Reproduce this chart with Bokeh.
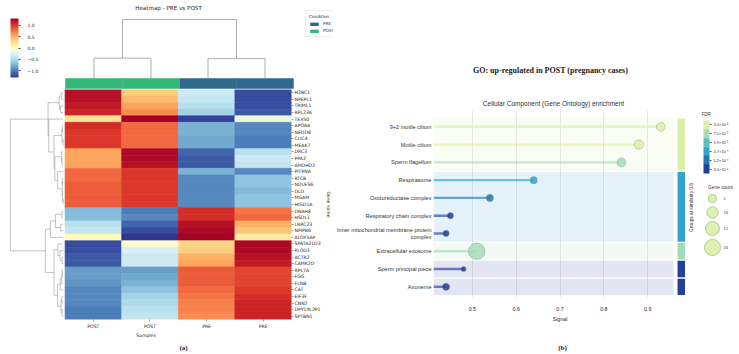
import textwrap
import numpy as np
from bokeh.plotting import figure
from bokeh.layouts import row, column
from bokeh.models import (ColumnDataSource, Range1d, LinearColorMapper, ColorBar, FixedTicker,
                          Label, Legend, LegendItem, AllLabels)
from bokeh.palettes import RdYlBu11
from bokeh.transform import transform
from bokeh.embed import file_html
from bokeh.resources import INLINE

# ------------------------------------------------------------------ heatmap data
genes = ["H2BC1", "NPEPL1", "TRIML1", "RPL23A", "TEX50", "APOA4", "NEDD8", "CLIC4",
         "MEAK7", "DRC3", "PPA2", "AMDHD2", "PITPNA", "RTCB", "NDUFS6", "DLD", "MGAM",
         "HIGD1A", "DNAH8", "HSDL1", "LRRC23", "NPIPB6", "ALOX5AP", "SPATA31D3", "PLOD3",
         "ACTR2", "CAMK2D", "RPL7A", "FGG", "FLNB", "CAT", "EIF3F", "CNN2", "DPY19L2P1",
         "SPTBN1"]
samples = ["POST", "POST", "PRE", "PRE"]
conditions = ["PRE", "POST"]
condition_colors = ["#31688e", "#35b779"]

# row z-scores, one list per sample column
post_1 = [1.20, 1.20, 1.15, 1.10, 0.25, 1.05, 1.00, 1.00, 1.00, 0.55, 0.55, 0.55,
          0.80, 0.80, 0.85, 0.85, 0.85, 0.85, -0.70, -0.70, -0.45, -0.40, 0.05,
          -1.20, -1.20, -1.15, -1.15, -0.85, -0.85, -0.90, -0.95, -0.95, -0.95, -1.00, -1.00]
post_2 = [0.35, 0.45, 0.55, 0.65, 1.30, 0.80, 0.80, 0.80, 0.80, 1.25, 1.25, 1.20,
          1.00, 1.00, 1.00, 1.00, 1.00, 1.00, -1.00, -0.95, -1.10, -1.20, -1.30,
          -0.05, -0.30, -0.35, -0.35, -0.85, -0.80, -0.75, -0.65, -0.55, -0.50, -0.45, -0.40]
pre_1 = [-0.35, -0.40, -0.45, -0.55, -1.25, -0.75, -0.75, -0.80, -0.80, -1.10, -1.15, -1.15,
         -0.75, -0.95, -0.95, -0.95, -0.95, -0.95, 1.05, 1.05, 1.20, 1.25, 1.30,
         0.30, 0.35, 0.50, 0.55, 0.85, 0.85, 0.85, 0.80, 0.75, 0.70, 0.70, 0.65]
pre_2 = [-1.20, -1.20, -1.20, -1.15, -0.15, -0.95, -0.95, -1.00, -1.00, -0.45, -0.35, -0.40,
         -0.95, -0.65, -0.65, -0.70, -0.65, -0.65, 0.75, 0.80, 0.50, 0.40, 0.15,
         1.25, 1.25, 1.20, 1.15, 0.95, 0.95, 0.95, 1.00, 1.05, 1.10, 1.10, 1.10]
heat_ticks = [-1.0, -0.5, 0.0, 0.5, 1.0]

# ------------------------------------------------------------------ enrichment data
terms = ["9+2 motile cilium", "Motile cilium", "Sperm flagellum", "Respirasome",
         "Oxidoreductase complex", "Respiratory chain complex",
         "Inner mitochondrial membrane protein complex", "Extracellular exosome",
         "Sperm principal piece", "Axoneme"]
signal = [0.93, 0.88, 0.84, 0.64, 0.54, 0.45, 0.44, 0.51, 0.48, 0.44]
fdr = [2.6e-2, 2.6e-2, 9.5e-3, 4.7e-4, 1.2e-4, 3.5e-5, 3.0e-5, 9.5e-3, 4.5e-5, 2.5e-5]
gene_count = [6, 7, 6, 4, 4, 3, 3, 21, 2, 4]
group = [1, 1, 1, 2, 2, 2, 2, 3, 4, 5]
group_fdr = [2.6e-2, 4.7e-4, 9.5e-3, 4.5e-5, 2.5e-5]
signal_ticks = [0.5, 0.6, 0.7, 0.8, 0.9]
fdr_ticks = [3.0e-2, 7.5e-3, 1.9e-3, 4.7e-4, 1.2e-4, 3.0e-5]
fdr_tick_labels = ["3.0×10⁻²", "7.5×10⁻³", "1.9×10⁻³", "4.7×10⁻⁴", "1.2×10⁻⁴", "3.0×10⁻⁵"]
count_ticks = [5, 10, 15, 20]

# ------------------------------------------------------------------ helpers
SANS = "DejaVu Sans"
ARIAL = "Liberation Sans"
SERIF = "Liberation Serif"
TXT = "#262626"
TREE = "#9a9a9a"
PAGE_W, PAGE_H = 739, 354
BODY_H = 340          # panels; the caption strip sits underneath


def interp_hex(colors, n):
    rgb = np.array([[int(c[i:i + 2], 16) for i in (1, 3, 5)] for c in colors], float)
    t = np.linspace(0, 1, len(colors))
    ts = np.linspace(0, 1, n)
    out = np.stack([np.interp(ts, t, rgb[:, k]) for k in range(3)], axis=1)
    return ["#%02x%02x%02x" % tuple(int(round(v)) for v in c) for c in out]


def ordered_linkage(vectors):
    """Average-linkage clustering joining only neighbouring clusters, so the
    leaves keep the order of the rows. Returns (pos_a, h_a, pos_b, h_b, h)."""
    v = np.asarray(vectors, float)
    d = np.sqrt(((v[:, None, :] - v[None, :, :]) ** 2).sum(-1))
    clusters = [dict(members=[i], pos=float(i), h=0.0) for i in range(len(v))]
    links = []
    while len(clusters) > 1:
        best = None
        for j in range(len(clusters) - 1):
            a, b = clusters[j], clusters[j + 1]
            dist = d[np.ix_(a["members"], b["members"])].mean()
            if best is None or dist < best[0]:
                best = (dist, j)
        dist, j = best
        a, b = clusters[j], clusters[j + 1]
        h = max(dist, a["h"], b["h"])
        links.append((a["pos"], a["h"], b["pos"], b["h"], h))
        clusters[j:j + 2] = [dict(members=a["members"] + b["members"],
                                  pos=(a["pos"] + b["pos"]) / 2, h=h)]
    return links


def style_axis(ax, font, size):
    ax.axis_line_color = None
    ax.major_tick_in = 0
    ax.minor_tick_line_color = None
    ax.major_label_text_font = font
    ax.major_label_text_font_size = size
    ax.major_label_text_color = TXT
    ax.axis_label_text_font = font
    ax.axis_label_text_font_size = size
    ax.axis_label_text_font_style = "normal"
    ax.axis_label_text_color = TXT


def bare(fig):
    fig.axis.visible = False
    fig.grid.visible = False
    fig.outline_line_color = None
    return fig


def fig(**kw):
    return figure(output_backend="svg", toolbar_location=None, frame_align=False, **kw)


# ================================================================== (a) clustered heatmap
LEFT_W = 333
hm_left, hm_right = 65, 293
hm_top, hm_bottom = 89, 322
n_rows, n_cols = len(genes), len(samples)
matrix = np.array([post_1, post_2, pre_1, pre_2]).T
col_w = (hm_right - hm_left) / n_cols
row_h = (hm_bottom - hm_top) / n_rows

heat_palette = interp_hex(list(RdYlBu11), 256)
heat_mapper = LinearColorMapper(palette=heat_palette, low=matrix.min(), high=matrix.max())

# --- upper strip: title, colour scale, column dendrogram, condition bar, legend
pt = bare(fig(width=LEFT_W, height=hm_top,
              x_range=Range1d(-hm_left / col_w, (LEFT_W - hm_left) / col_w),
              y_range=Range1d(hm_top, 0), min_border=0))

legend_items = []
for cond, color in zip(conditions, condition_colors):
    idx = [j for j, s in enumerate(samples) if s == cond]
    r = pt.quad(left=idx, right=[j + 1 for j in idx], bottom=88, top=78,
                fill_color=color, line_color=color, line_width=0.5)
    legend_items.append(LegendItem(label=cond, renderers=[r]))

col_links = ordered_linkage(matrix.T)
col_hmax = max(l[4] for l in col_links)
c_leaf, c_root = 78, 19
pt.extra_y_ranges = {"coldend": Range1d((c_leaf - hm_top) / (c_leaf - c_root) * col_hmax,
                                        c_leaf / (c_leaf - c_root) * col_hmax)}
pt.multi_line(xs=[[pa + 0.5, pa + 0.5, pb + 0.5, pb + 0.5] for pa, ha, pb, hb, h in col_links],
              ys=[[ha, h, h, hb] for pa, ha, pb, hb, h in col_links],
              y_range_name="coldend", line_color=TREE, line_width=0.8)

cbar = ColorBar(color_mapper=heat_mapper, location=(10, hm_top - 77), width=8, height=59,
                padding=0, margin=0, ticker=FixedTicker(ticks=heat_ticks),
                major_label_overrides={t: ("%.1f" % t).replace("-", "−") for t in heat_ticks},
                major_label_policy=AllLabels(),
                major_label_text_font=SANS, major_label_text_font_size="4.5px",
                major_label_text_color=TXT, major_tick_in=0, major_tick_out=2,
                major_tick_line_color="#444444", label_standoff=7, bar_line_color=None,
                background_fill_alpha=0)
pt.add_layout(cbar)

leg = Legend(items=legend_items, title="Condition", location=(305, hm_top - 37),
             title_text_font=SANS, title_text_font_size="4.2px", title_text_color=TXT,
             label_text_font=SANS, label_text_font_size="4.2px", label_text_color=TXT,
             glyph_width=10, glyph_height=4, label_height=5, label_standoff=4,
             padding=3, spacing=2, margin=0, title_standoff=2,
             border_line_color="#dddddd", border_line_width=0.6)
pt.add_layout(leg)
pt.add_layout(Label(x=(168 - hm_left) / col_w, y=7, text="Heatmap - PRE vs POST",
                    text_font=SANS, text_font_size="5.6px", text_color=TXT,
                    text_align="center", text_baseline="middle"))

# --- heatmap body with row dendrogram
ph = fig(width=LEFT_W, height=BODY_H - hm_top,
         x_range=Range1d(-hm_left / col_w, n_cols), y_range=Range1d(0, n_rows),
         y_axis_location="right",
         min_border_left=0, min_border_right=LEFT_W - hm_right,
         min_border_top=0, min_border_bottom=BODY_H - hm_bottom)
ph.xgrid.visible = False
ph.ygrid.visible = False
ph.outline_line_color = None

cells = dict(x=[], y=[], v=[])
for i in range(n_rows):
    for j in range(n_cols):
        cells["x"].append(j + 0.5)
        cells["y"].append(n_rows - i - 0.5)
        cells["v"].append(float(matrix[i, j]))
ph.rect(x="x", y="y", width=1, height=1, source=ColumnDataSource(cells),
        fill_color=transform("v", heat_mapper), line_color=transform("v", heat_mapper),
        line_width=0.6)

row_links = ordered_linkage(matrix)
row_hmax = max(l[4] for l in row_links)
r_leaf, r_root = 63, 10
ph.extra_x_ranges = {"rowdend": Range1d(r_leaf / (r_leaf - r_root) * row_hmax,
                                        (r_leaf - hm_right) / (r_leaf - r_root) * row_hmax)}
ph.multi_line(xs=[[ha, h, h, hb] for pa, ha, pb, hb, h in row_links],
              ys=[[n_rows - pa - 0.5, n_rows - pa - 0.5, n_rows - pb - 0.5, n_rows - pb - 0.5]
                  for pa, ha, pb, hb, h in row_links],
              x_range_name="rowdend", line_color=TREE, line_width=0.6)

for ax in (ph.xaxis[0], ph.yaxis[0]):
    style_axis(ax, SANS, "4.6px")
    ax.major_tick_out = 2
    ax.major_tick_line_width = 0.5
    ax.major_tick_line_color = "#444444"
    ax.major_label_standoff = 1
ph.xaxis.major_label_standoff = 2
ph.xaxis.ticker = FixedTicker(ticks=[j + 0.5 for j in range(n_cols)])
ph.xaxis.major_label_overrides = {j + 0.5: s for j, s in enumerate(samples)}
ph.xaxis.axis_label = "Samples"
ph.xaxis.axis_label_standoff = 1
ph.yaxis.ticker = FixedTicker(ticks=[n_rows - i - 0.5 for i in range(n_rows)])
ph.yaxis.major_label_overrides = {n_rows - i - 0.5: g for i, g in enumerate(genes)}
ph.yaxis.axis_label = "Gene name"
ph.yaxis.axis_label_standoff = 2
ph.yaxis.axis_label_text_font_size = "4.5px"

left_panel = column(pt, ph, spacing=0)

# ================================================================== (b) GO enrichment
RIGHT_W = 353
page_x0 = LEFT_W
plot_l, plot_r = 432, 686
plot_t, plot_b = 110, 297
px_per_signal = 440.0
sig05_px = 471.0
row0_px, row_pitch = 126.3, 17.78
n_terms = len(terms)


def sig_at(px):
    return 0.5 + (px - sig05_px) / px_per_signal


def row_at(py):
    return (n_terms - 1) - (py - row0_px) / row_pitch


# --- headings
pth = bare(fig(width=RIGHT_W, height=plot_t, x_range=Range1d(page_x0, plot_r),
               y_range=Range1d(plot_t, 0), min_border=0))
pth.add_layout(Label(x=550, y=70, text="GO: up-regulated in POST (pregnancy cases)",
                     text_font=SERIF, text_font_size="8px", text_font_style="bold",
                     text_color="#222222", text_align="center", text_baseline="middle"))
pth.add_layout(Label(x=553, y=103, text="Cellular Component (Gene Ontology) enrichment",
                     text_font=ARIAL, text_font_size="6.5px", text_color="#333333",
                     text_align="center", text_baseline="middle"))

# --- lollipop chart
x_lo, x_hi = sig_at(plot_l), sig_at(plot_r)
pr = fig(width=RIGHT_W, height=BODY_H - plot_t, x_range=Range1d(x_lo, x_hi),
         y_range=Range1d(row_at(plot_b), row_at(plot_t)),
         min_border_left=plot_l - page_x0, min_border_right=page_x0 + RIGHT_W - plot_r,
         min_border_top=0, min_border_bottom=BODY_H - plot_b)
pr.outline_line_color = None
pr.ygrid.visible = False
pr.xgrid.ticker = FixedTicker(ticks=signal_ticks)
pr.xgrid.grid_line_color = "#e3e3e3"
pr.xgrid.grid_line_width = 0.8

# FDR colours on a log10 scale
fdr_palette = ["#24409a", "#2079b6", "#2fa4cd", "#5dc0c3", "#a6dbb9", "#d9f0a9"]
fdr_mapper = LinearColorMapper(palette=fdr_palette, low=np.log10(fdr_ticks[-1] / 2),
                               high=np.log10(fdr_ticks[0] * 2))

term_y = [n_terms - 1 - k for k in range(n_terms)]
band = dict(top=[], bottom=[], lfdr=[])
for g, gf in zip(sorted(set(group)), group_fdr):
    ys = [term_y[k] for k in range(n_terms) if group[k] == g]
    band["top"].append(max(ys) + 0.46)
    band["bottom"].append(min(ys) - 0.46)
    band["lfdr"].append(float(np.log10(gf)))
band_src = ColumnDataSource(band)
pr.quad(left=x_lo, right=sig_at(673), top="top", bottom="bottom", source=band_src,
        fill_color=transform("lfdr", fdr_mapper), fill_alpha=0.13, line_color=None)
pr.quad(left=sig_at(677), right=sig_at(684.5), top="top", bottom="bottom", source=band_src,
        fill_color=transform("lfdr", fdr_mapper), line_color=None)

src = ColumnDataSource(dict(term=terms, signal=signal, fdr=fdr, count=gene_count, y=term_y,
                            lfdr=[float(np.log10(f)) for f in fdr],
                            size=[3.6 * np.sqrt(c) for c in gene_count]))
pr.segment(x0=x_lo, y0="y", x1="signal", y1="y", source=src,
           line_color=transform("lfdr", fdr_mapper), line_alpha=0.65, line_width=2.4)
pr.scatter(x="signal", y="y", size="size", source=src,
           fill_color=transform("lfdr", fdr_mapper), fill_alpha=0.85,
           line_color="#6f8f78", line_alpha=0.45, line_width=0.8)

style_axis(pr.xaxis[0], ARIAL, "5.3px")
style_axis(pr.yaxis[0], ARIAL, "5.6px")
pr.xaxis.ticker = FixedTicker(ticks=signal_ticks)
pr.xaxis.major_tick_out = 0
pr.xaxis.major_label_standoff = 9
pr.xaxis.axis_label = "Signal"
pr.xaxis.axis_label_standoff = 2
pr.yaxis.ticker = FixedTicker(ticks=term_y)
pr.yaxis.major_tick_out = 0
pr.yaxis.major_label_standoff = 2
pr.yaxis.major_label_text_color = "#333333"
pr.yaxis.major_label_overrides = {y: textwrap.fill(t, 36) for y, t in zip(term_y, terms)}

right_panel = column(pth, pr, spacing=0)

# --- legends strip
LEG_W = PAGE_W - plot_r
pl = bare(fig(width=LEG_W, height=BODY_H, x_range=Range1d(plot_r, PAGE_W),
              y_range=Range1d(BODY_H, 0), min_border=0))
log_ticks = [float(np.log10(t)) for t in fdr_ticks]
fdr_bar = ColorBar(color_mapper=fdr_mapper, location=(703 - plot_r, BODY_H - 173), width=6,
                   height=53, padding=0, margin=0,
                   ticker=FixedTicker(ticks=log_ticks),
                   major_label_overrides=dict(zip(log_ticks, fdr_tick_labels)),
                   major_label_policy=AllLabels(),
                   major_label_text_font=ARIAL, major_label_text_font_size="4px",
                   major_label_text_color="#333333", major_tick_in=0, major_tick_out=2,
                   major_tick_line_color="#555555", label_standoff=2, bar_line_color=None,
                   background_fill_alpha=0)
pl.add_layout(fdr_bar)
pl.add_layout(Label(x=701, y=114, text="FDR", text_font=ARIAL, text_font_size="4.5px",
                    text_color="#333333", text_align="left", text_baseline="middle"))
pl.add_layout(Label(x=691, y=207, text="Groups at similarity 0.8", angle=np.pi / 2,
                    text_font=ARIAL, text_font_size="4.8px", text_color="#333333",
                    text_align="center", text_baseline="middle"))
pl.add_layout(Label(x=720, y=187, text="Gene count", text_font=ARIAL, text_font_size="4.8px",
                    text_color="#333333", text_align="center", text_baseline="middle"))
count_y = [198, 212, 228, 247]
pl.scatter(x=712, y=count_y, size=[3.6 * np.sqrt(c) for c in count_ticks],
           fill_color=fdr_palette[-1], fill_alpha=0.9, line_color="#9fbf8a", line_width=0.8)
pl.text(x=723, y=count_y, text=[str(c) for c in count_ticks], text_font_size="4.5px",
        text_color="#333333", text_baseline="middle", text_font=ARIAL)

# ================================================================== captions
pc = bare(fig(width=PAGE_W, height=PAGE_H - BODY_H, x_range=Range1d(0, PAGE_W),
              y_range=Range1d(PAGE_H, BODY_H), min_border=0))
for cx, cap in ((183, "(a)"), (562, "(b)")):
    pc.add_layout(Label(x=cx, y=347, text=cap, text_font=SERIF, text_font_size="7px",
                        text_font_style="bold", text_color="#222222", text_align="center",
                        text_baseline="middle"))

layout = column(row(left_panel, right_panel, pl, spacing=0), pc, spacing=0)
open("out.html", "w").write(file_html(layout, INLINE))
